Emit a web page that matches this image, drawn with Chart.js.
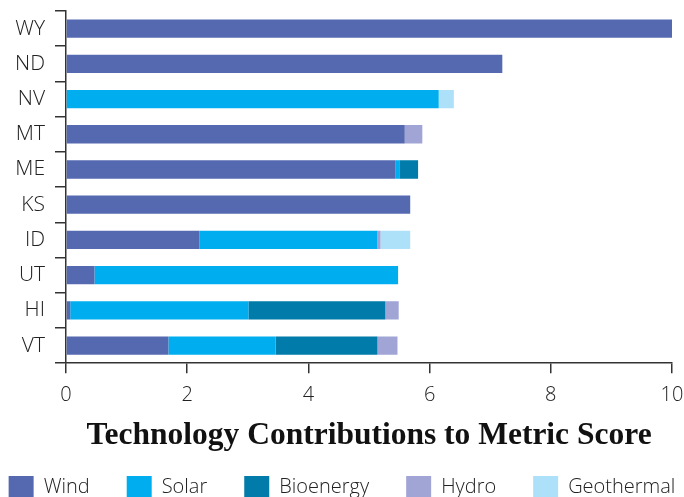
<!DOCTYPE html>
<html>
<head>
<meta charset="utf-8">
<script src="https://cdn.jsdelivr.net/npm/chart.js@4"></script>
<style>
  html, body { margin: 0; padding: 0; background: #fff; }
  #wrap { width: 684px; height: 497px; position: relative; }
</style>
</head>
<body>
<div id="wrap"><canvas id="chart"></canvas></div>
<script>
const states = ["WY", "ND", "NV", "MT", "ME", "KS", "ID", "UT", "HI", "VT"];
const wind =       [10.0, 7.20, 0,    5.59, 5.44, 5.68, 2.20, 0.47, 0.07, 1.69];
const solar =      [0,    0,    6.15, 0,    0.06, 0,    2.94, 5.01, 2.94, 1.77];
const bioenergy =  [0,    0,    0,    0,    0.31, 0,    0,    0,    2.26, 1.68];
const hydro =      [0,    0,    0,    0.29, 0,    0,    0.05, 0,    0.22, 0.33];
const geothermal = [0,    0,    0.25, 0,    0,    0,    0.49, 0,    0,    0];
const xTicks = [0, 2, 4, 6, 8, 10];

const sans = "'Open Sans', Lato, sans-serif";
const axisColor = "#333333";
// negative side padding gives the legend row room to spread across the page
const sidePad = -45;

function series(label, data, color) {
  return {
    label: label,
    data: data,
    backgroundColor: color,
    borderWidth: 0,
    barPercentage: 0.52,
    categoryPercentage: 1
  };
}

new Chart(document.getElementById("chart"), {
  type: "bar",
  data: {
    labels: states,
    datasets: [
      series("Wind", wind, "#5569b0"),
      series("Solar", solar, "#00aeef"),
      series("Bioenergy", bioenergy, "#007baa"),
      series("Hydro", hydro, "#a1a5d6"),
      series("Geothermal", geothermal, "#ade1fa")
    ]
  },
  options: {
    indexAxis: "y",
    responsive: true,
    maintainAspectRatio: false,
    animation: false,
    layout: { padding: { top: 0, left: sidePad, right: sidePad, bottom: -11 } },
    scales: {
      x: {
        stacked: true,
        min: 0,
        max: 10,
        afterBuildTicks: (axis) => {
          axis.ticks = xTicks.map((v) => ({ value: v }));
        },
        afterFit: (scale) => {
          scale.paddingRight = 12;
          scale.paddingLeft = 0;
        },
        border: { display: true, color: axisColor, width: 1.5 },
        grid: {
          drawOnChartArea: false,
          drawTicks: true,
          tickLength: 10,
          color: axisColor,
          lineWidth: 1.5
        },
        ticks: {
          color: "#222",
          font: { family: sans, size: 20, weight: 300 },
          padding: 10
        },
        title: {
          display: true,
          text: "Technology Contributions to Metric Score",
          color: "#111",
          font: { family: "'Liberation Serif', 'DejaVu Serif', serif", size: 31.5, weight: "bold" },
          padding: { top: -0.4, bottom: -15.6 }
        }
      },
      y: {
        stacked: true,
        afterFit: (scale) => {
          scale.width = 66 - sidePad;
          scale.paddingTop = 11;
          scale.paddingBottom = 0;
        },
        border: { display: true, color: axisColor, width: 1.5 },
        grid: {
          drawOnChartArea: false,
          drawTicks: true,
          tickLength: 11,
          color: axisColor,
          lineWidth: 1.5
        },
        ticks: {
          color: "#222",
          font: { family: sans, size: 21, weight: 300 },
          padding: 10
        }
      }
    },
    plugins: {
      legend: {
        position: "bottom",
        labels: {
          boxWidth: 25,
          boxHeight: 22,
          padding: 37,
          color: "#222",
          font: { family: sans, size: 20, weight: 300 }
        }
      },
      tooltip: { enabled: false }
    }
  }
});
</script>
</body>
</html>
